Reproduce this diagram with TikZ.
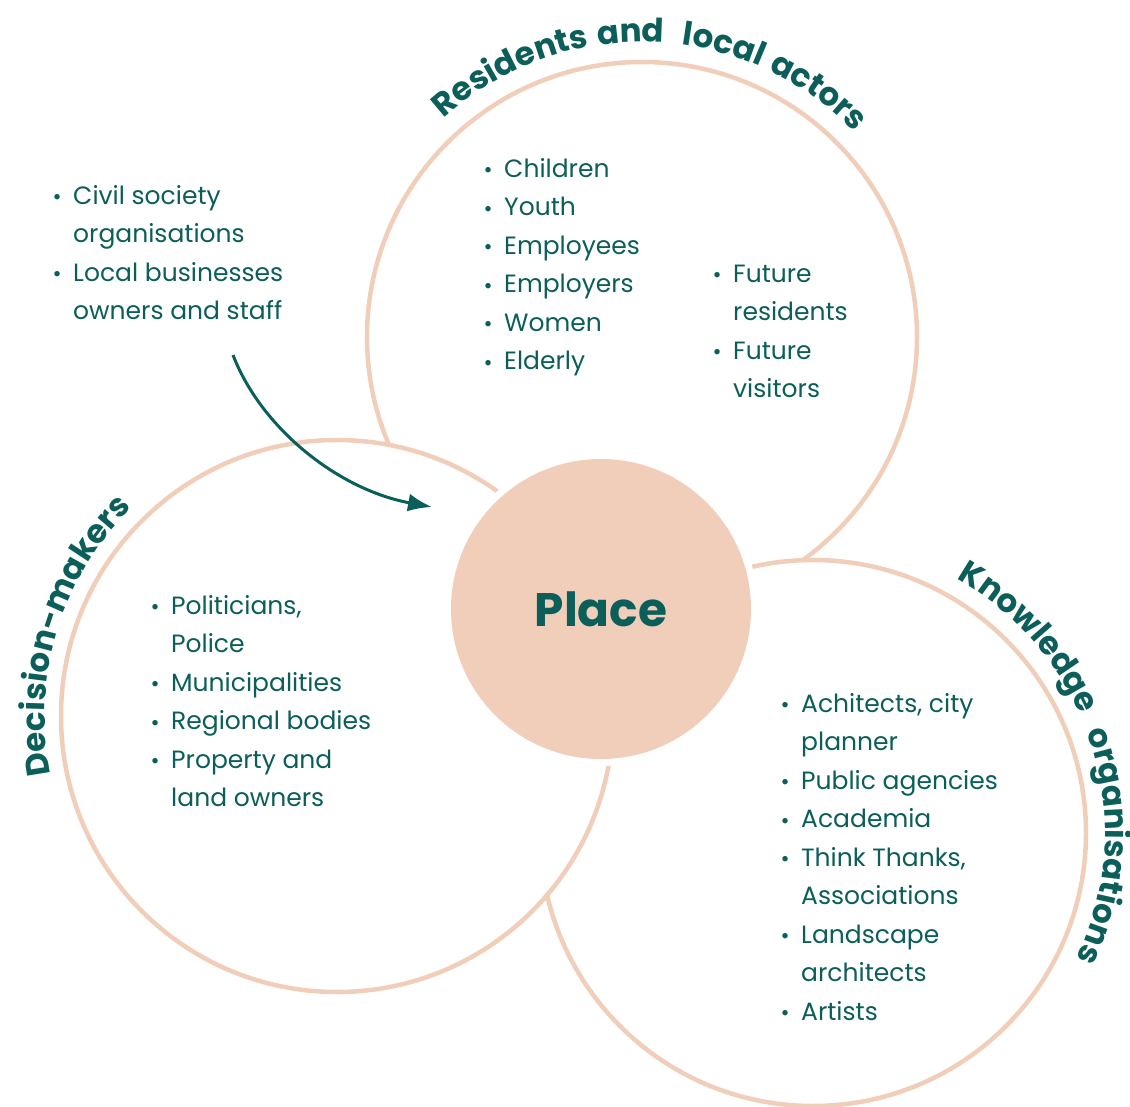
\documentclass[tikz,border=0pt]{standalone}
\usepackage{fontspec}
\setmainfont{Poppins}
\newfontfamily\titlefam{Poppins}[LetterSpace=6]
\usetikzlibrary{decorations.text,arrows.meta}
\definecolor{deepteal}{HTML}{0B5E59}
\definecolor{peach}{HTML}{F0CEB9}
\newcommand\bul{\makebox[19pt][l]{\hspace{-1.5pt}\raisebox{-0.5pt}{\fontsize{22}{22}\selectfont\textbullet}}}
\newcommand\ind{\hspace*{19pt}}
\newcommand\titlefont{\titlefam\fontsize{32.5}{32.5}\selectfont\bfseries\color{deepteal}}
\begin{document}
\begin{tikzpicture}[x=1pt,y=1pt,
  ring/.style={draw=peach, line width=4.5pt, circle, inner sep=0pt},
  lst/.style={anchor=north west, inner sep=0pt, align=left, text=deepteal,
    font=\fontsize{25}{38.5}\selectfont},
  arrowline/.style={draw=deepteal, line width=3pt, -{Latex[length=24pt,width=18pt]}}]
\useasboundingbox (0,0) rectangle (1130,-1107);

% circles
\node[ring, minimum size=550pt] (resC) at (642,-337) {};
\node[ring, minimum size=546pt, fill=white] (knowC) at (813,-833) {};
\node[ring, minimum size=552pt, fill=white] (decC) at (337,-716) {};
\fill[white] (601,-609) circle (157);
\node[circle, fill=peach, minimum size=300pt, inner sep=0pt, text=deepteal,
  font=\fontsize{47}{47}\selectfont\bfseries] (place) at (601,-609) {Place};

% titles along arcs
\path[decorate, decoration={text along path, text align=center,
  text={|\titlefont|Residents and {\ }local actors}}]
  (resC.center) ++(148:295) arc[start angle=148, end angle=28, radius=295];
\path[decorate, decoration={text along path, text align=center,
  text={|\titlefont|Decision-makers}}]
  (decC.center) ++(218:292) arc[start angle=218, end angle=108, radius=292];
\path[decorate, decoration={text along path, text align=center,
  text={|\titlefont|Knowledge {\ }organisations}}]
  (knowC.center) ++(77.5:292) arc[start angle=77.5, end angle=-42.5, radius=292];

% lists
\node[lst] (civil) at (54,-177) {\strut\bul Civil society\\ \strut\ind organisations\\ \strut\bul Local businesses\\ \strut\ind owners and staff};
\node[lst] (resl) at (485,-150) {\strut\bul Children\\ \strut\bul Youth\\ \strut\bul Employees\\ \strut\bul Employers\\ \strut\bul Women\\ \strut\bul Elderly};
\node[lst] (futl) at (714,-255) {\strut\bul Future\\ \strut\ind residents\\ \strut\bul Future\\ \strut\ind visitors};
\node[lst] (decl) at (152,-587) {\strut\bul Politicians,\\ \strut\ind Police\\ \strut\bul Municipalities\\ \strut\bul Regional bodies\\ \strut\bul Property and\\ \strut\ind land owners};
\node[lst] (knowl) at (782,-685) {\strut\bul Achitects, city\\ \strut\ind planner\\ \strut\bul Public agencies\\ \strut\bul Academia\\ \strut\bul Think Thanks,\\ \strut\ind Associations\\ \strut\bul Landscape\\ \strut\ind architects\\ \strut\bul Artists};

% arrow
\coordinate (arrS) at (233,-355);
\coordinate (arrE) at (432,-507);
\draw[arrowline] (arrS) .. controls (262,-430) and (340,-490) .. (arrE);
\end{tikzpicture}
\end{document}
